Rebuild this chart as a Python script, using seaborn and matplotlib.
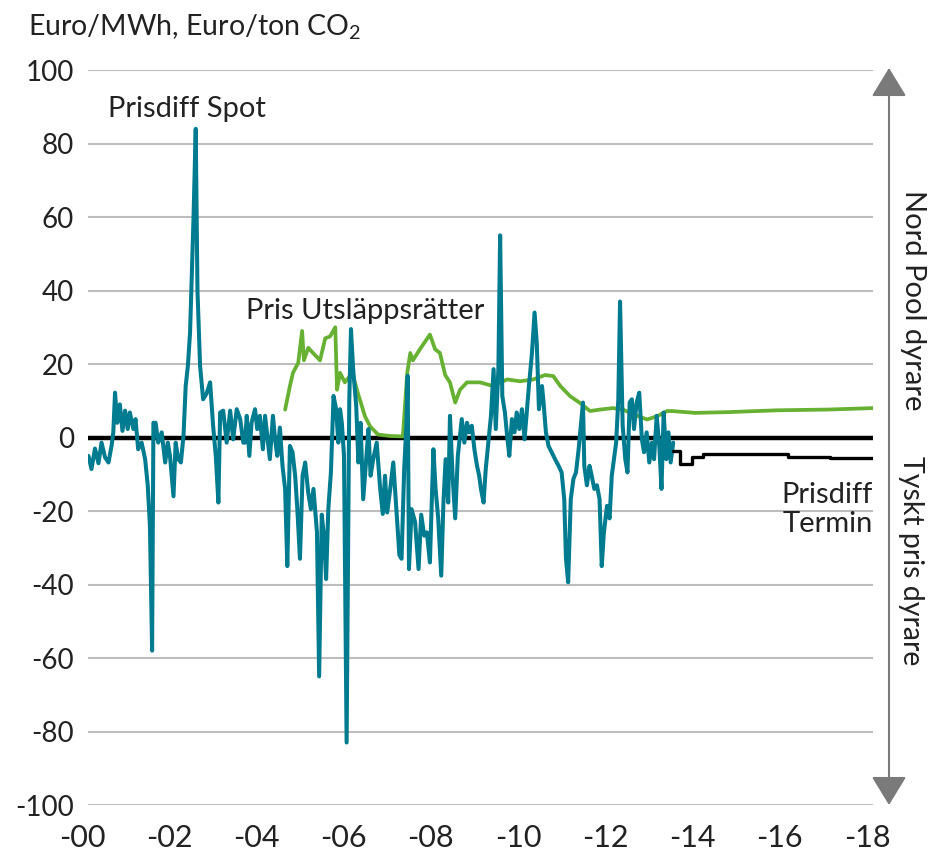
import numpy as np
import pandas as pd
import seaborn as sns
import matplotlib.pyplot as plt
from matplotlib.transforms import ScaledTranslation

# Prisdiff Spot (Nord Pool - Tyskland), Euro/MWh
spot_year = [2000.01, 2000.08, 2000.16, 2000.24, 2000.31, 2000.39, 2000.47, 2000.54, 2000.58, 2000.62,
             2000.67, 2000.73, 2000.79, 2000.85, 2000.91, 2000.96, 2001.04, 2001.09, 2001.15, 2001.23,
             2001.31, 2001.37, 2001.42, 2001.47, 2001.50, 2001.55, 2001.61, 2001.69, 2001.77, 2001.83,
             2001.88, 2001.96, 2002.01, 2002.07, 2002.13, 2002.19, 2002.24, 2002.29, 2002.34, 2002.42,
             2002.47, 2002.51, 2002.57, 2002.64, 2002.72, 2002.80, 2002.87, 2002.93, 2002.99, 2003.03,
             2003.10, 2003.18, 2003.26, 2003.33, 2003.41, 2003.49, 2003.56, 2003.60, 2003.64, 2003.70,
             2003.75, 2003.83, 2003.88, 2003.94, 2004.01, 2004.06, 2004.11, 2004.17, 2004.24, 2004.29,
             2004.34, 2004.40, 2004.46, 2004.52, 2004.57, 2004.63, 2004.69, 2004.75, 2004.80, 2004.86,
             2004.92, 2004.98, 2005.05, 2005.11, 2005.17, 2005.25, 2005.30, 2005.36, 2005.41, 2005.46,
             2005.51, 2005.57, 2005.63, 2005.69, 2005.74, 2005.78, 2005.82, 2005.87, 2005.93, 2005.99,
             2006.03, 2006.08, 2006.15, 2006.20, 2006.25, 2006.31, 2006.38, 2006.43, 2006.48, 2006.54,
             2006.62, 2006.70, 2006.76, 2006.81, 2006.86, 2006.93, 2007.00, 2007.08, 2007.14, 2007.19,
             2007.25, 2007.30, 2007.33, 2007.36, 2007.42, 2007.50, 2007.58, 2007.64, 2007.71, 2007.77,
             2007.84, 2007.92, 2007.97, 2008.03, 2008.10, 2008.15, 2008.20, 2008.26, 2008.30, 2008.36,
             2008.42, 2008.48, 2008.53, 2008.57, 2008.63, 2008.69, 2008.74, 2008.80, 2008.86, 2008.92,
             2008.97, 2009.01, 2009.07, 2009.12, 2009.18, 2009.24, 2009.30, 2009.35, 2009.41, 2009.45,
             2009.50, 2009.56, 2009.61, 2009.66, 2009.72, 2009.78, 2009.83, 2009.89, 2009.95, 2010.01,
             2010.06, 2010.11, 2010.18, 2010.24, 2010.29, 2010.34, 2010.41, 2010.44, 2010.50, 2010.56,
             2010.63, 2010.71, 2010.79, 2010.86, 2010.92, 2010.96, 2011.01, 2011.07, 2011.13, 2011.19,
             2011.25, 2011.30, 2011.35, 2011.38, 2011.44, 2011.50, 2011.55, 2011.61, 2011.67, 2011.73,
             2011.78, 2011.83, 2011.90, 2011.96, 2012.01, 2012.06, 2012.11, 2012.16, 2012.20, 2012.26,
             2012.32, 2012.37, 2012.42, 2012.47, 2012.52, 2012.58, 2012.64, 2012.70, 2012.75, 2012.81,
             2012.87, 2012.93, 2012.98, 2013.04, 2013.10, 2013.15, 2013.20, 2013.26, 2013.31, 2013.36,
             2013.42]
spot_val = [-5, -8.6, -3, -7, -1.4, -5.4, -6.8, -2.3, 1.4, 12.2,
            4, 9, 1.8, 7.3, 2.3, 6.8, 2.3, 5, -3.2, -1.4,
            -5.9, -13, -24, -58, 4, 4, -1.4, 1.4, -6.8, -1.4,
            -5, -16, -1.4, -5.9, -6.8, 0.5, 14, 19.5, 28.5, 60,
            84, 40, 19.5, 10.4, 12, 15, 3, -5, -17.7, 6.8,
            7.3, -1.4, 7.3, -0.5, 7.7, 5, -1.4, -1.4, 5.9, -5,
            4, 7.7, 2.3, 5.9, -3.2, 5.9, 0.5, -5.9, 5.9, -0.5,
            -5, 2.7, -7.7, -14, -35, -2.3, -4, -10.4, -19.5, -33,
            -10.4, -6.8, -15, -19.5, -14, -25.8, -65, -21, -26.7, -38.5,
            -19.5, -9.5, 11.3, 7.7, -1.4, 7.7, 4, -5, -83, 9.5,
            29.5, 18.6, 8.6, -6.8, 4, -16.8, -5.9, 2.3, -10.4, -5.9,
            -1.4, -14, -20.8, -10.4, -20.4, -14, -6.8, -21, -32, -33,
            -8.6, 3.2, 16.8, -35.8, -19.5, -23, -35.8, -21, -26.7, -25.8,
            -34, -3.2, -14, -22, -37.6, -17.7, -5.9, -17.7, 5.9, -10.4,
            -22, -5, 0.5, 5, -1.4, 4, 1.4, 3.2, -3.2, -7.7,
            -10.4, -14, -17.7, -8.6, -1.4, 5.9, 18.6, 2.3, 18.6, 55,
            11.3, 6.8, 0.5, -5, 5, 1.4, 6.8, 2.3, 7.7, -0.5,
            6.8, 14, 23, 34, 25.8, 7.7, 14, 10.4, 1.4, -2.3,
            -4, -5.9, -7.7, -9.5, -16.8, -33, -39.4, -16.8, -11.3, -9.5,
            -3.2, 3.2, 9.5, -7.7, -13, -7.7, -10.4, -14, -13, -16.8,
            -35, -25.8, -18.6, -22, -10.4, -5.9, -1.4, 10.4, 37, 3.2,
            -5.9, -9.5, 9.5, 10.4, 2.3, 9.5, 12.2, -0.5, -4, 1.4,
            -6.8, -1.4, -5.9, 5.9, -2.3, -14, 6.8, -5.9, 1.4, -6.8,
            -1.4]

# Pris Utsläppsrätter, Euro/ton CO2
co2_year = [2004.52, 2004.63, 2004.70, 2004.82, 2004.91, 2004.95, 2005.05, 2005.16, 2005.32, 2005.44,
            2005.55, 2005.67, 2005.71, 2005.78, 2005.89, 2006.06, 2006.19, 2006.35, 2006.47, 2006.65,
            2006.93, 2007.22, 2007.32, 2007.39, 2007.45, 2007.61, 2007.84, 2007.96, 2008.07, 2008.19,
            2008.30, 2008.42, 2008.53, 2008.69, 2008.99, 2009.29, 2009.61, 2009.91, 2010.21, 2010.48,
            2010.67, 2010.83, 2011.06, 2011.28, 2011.51, 2011.74, 2012.04, 2012.27, 2012.50, 2012.82,
            2013.05, 2013.28, 2013.39, 2013.92, 2014.66, 2015.80, 2016.95, 2018.00]
co2_val = [7.6, 14, 17.6, 20.3, 29, 21, 24.4, 23, 21, 27,
           27.5, 30, 13, 17.6, 15, 17.6, 12, 5.8, 3, 0.8,
           0.4, 0.3, 17.6, 23, 21, 24, 28, 24, 23, 17,
           15, 9.5, 13, 15, 15, 14, 15.8, 15.3, 15.8, 17,
           16.7, 14, 11.2, 9.4, 7.2, 7.6, 8, 7.6, 6.3, 4.9,
           5.8, 7.2, 7.2, 6.7, 6.9, 7.4, 7.6, 8]

# Prisdiff Termin, Euro/MWh
fwd_year = [2013.42, 2013.58, 2013.85, 2014.11, 2016.06, 2017.02, 2018.00]
fwd_val = [-3.6, -7.3, -5.4, -4.5, -5.2, -5.5, -5.5]

x_ticks = [2000, 2002, 2004, 2006, 2008, 2010, 2012, 2014, 2016, 2018]
x_labels = ['-00', '-02', '-04', '-06', '-08', '-10', '-12', '-14', '-16', '-18']
y_ticks = [-100, -80, -60, -40, -20, 0, 20, 40, 60, 80, 100]

sns.set_theme(style='white')
plt.rcParams['font.family'] = ['Lato', 'DejaVu Sans']
plt.rcParams['mathtext.fontset'] = 'custom'
plt.rcParams['mathtext.rm'] = 'Lato'

txt = '#222222'
teal = '#007b8f'
green = '#66b032'

fig = plt.figure(figsize=(9.29, 8.66), dpi=100)
ax = fig.add_axes([88 / 929, 1 - 805 / 866, (873 - 88) / 929, (805 - 70) / 866])

spot = pd.DataFrame({'year': spot_year, 'val': spot_val})
co2 = pd.DataFrame({'year': co2_year, 'val': co2_val})
fwd = pd.DataFrame({'year': fwd_year, 'val': fwd_val})

ax.axhline(0, color='black', lw=3.2, zorder=2)
sns.lineplot(data=co2, x='year', y='val', ax=ax, color=green, lw=2.7, estimator=None, zorder=3)
sns.lineplot(data=spot, x='year', y='val', ax=ax, color=teal, lw=2.9, estimator=None, zorder=4)
sns.lineplot(data=fwd, x='year', y='val', ax=ax, color='black', lw=2.4, estimator=None,
             drawstyle='steps-post', zorder=4)

ax.set_xlim(2000, 2018)
ax.set_ylim(-100, 100)
ax.set_xticks(x_ticks)
ax.set_xticklabels(x_labels, fontsize=22, color=txt)
ax.set_yticks(y_ticks)
ax.set_yticklabels([str(v) for v in y_ticks], fontsize=20, color=txt)
ax.tick_params(axis='x', length=0, pad=14)
ax.tick_params(axis='y', length=0, pad=10)
for lab in ax.get_xticklabels():
    lab.set_transform(lab.get_transform() + ScaledTranslation(-0.06, 0, fig.dpi_scale_trans))
ax.grid(axis='y', color='#bdbdbd', lw=1.5, zorder=0)
ax.grid(axis='x', visible=False)
sns.despine(ax=ax, left=True, bottom=True)
ax.set_xlabel('')
ax.set_ylabel('')

fig.text(28 / 929, 1 - 27 / 866, 'Euro/MWh, Euro/ton CO$_2$', fontsize=20.5, color=txt, va='center')

ax.text(2000.46, 89.5, 'Prisdiff Spot', fontsize=21, color=txt, ha='left', va='center')
ax.text(2003.62, 34.5, 'Pris Utsläppsrätter', fontsize=21, color=txt, ha='left', va='center')
ax.text(2018, -19.5, 'Prisdiff\nTermin', fontsize=21, color=txt, ha='right', va='center',
        linespacing=1.15)

# double arrow on the right
ax_arrow = fig.add_axes([0, 0, 1, 1], facecolor='none')
ax_arrow.set_axis_off()
ax_arrow.set_xlim(0, 929)
ax_arrow.set_ylim(866, 0)
ax_arrow.annotate('', xy=(889, 68), xytext=(889, 805),
                  arrowprops=dict(arrowstyle='<|-|>,head_length=0.9,head_width=0.55',
                                  color='#7a7a7a', lw=1.5, mutation_scale=20,
                                  shrinkA=0, shrinkB=0))
ax_arrow.text(913, 300, 'Nord Pool dyrare', rotation=-90, fontsize=21, color=txt,
              ha='center', va='center')
ax_arrow.text(911, 561, 'Tyskt pris dyrare', rotation=-90, fontsize=20.5, color=txt,
              ha='center', va='center')

fig.savefig('out.png', dpi=100)
